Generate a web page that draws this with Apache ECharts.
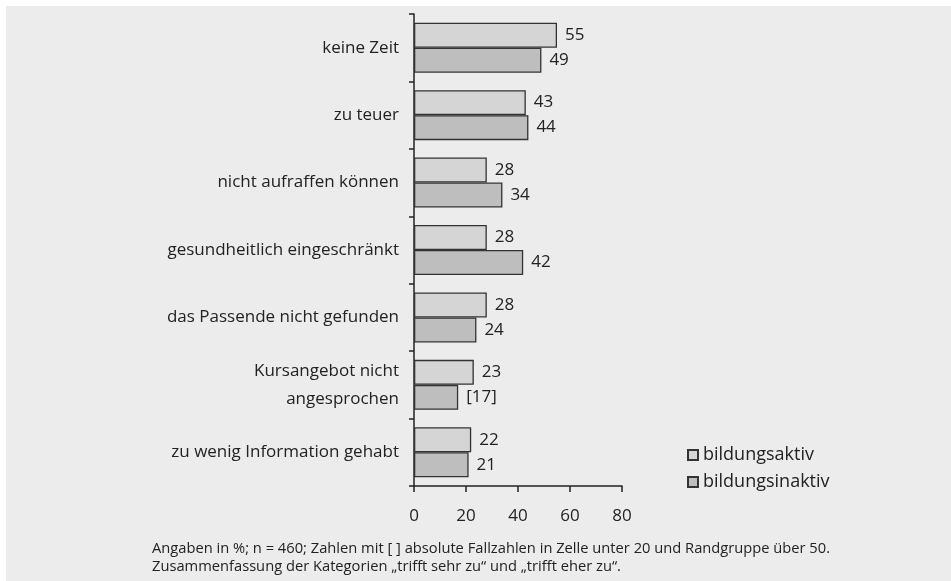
<!DOCTYPE html>
<html>
<head>
<meta charset="utf-8">
<script src="https://cdn.jsdelivr.net/npm/echarts@6/dist/echarts.min.js"></script>
<style>
  html, body { margin: 0; padding: 0; background: #fff; }
  #chart { width: 951px; height: 581px; }
</style>
</head>
<body>
<div id="chart"></div>
<script>
var categories = ['keine Zeit', 'zu teuer', 'nicht aufraffen können', 'gesundheitlich eingeschränkt',
    'das Passende nicht gefunden', 'Kursangebot nicht\nangesprochen', 'zu wenig Information gehabt'];
var aktiv = [55, 43, 28, 28, 28, 23, 22];
var inaktiv = [49, 44, 34, 42, 24, 17, 21];
var inaktivLabels = ['49', '44', '34', '42', '24', '[17]', '21'];
var xTicks = [0, 20, 40, 60, 80];

var font = '"Open Sans", Lato, sans-serif';
var ink = '#222';

var myChart = echarts.init(document.getElementById('chart'));

var option = {
    backgroundColor: '#fff',
    animation: false,
    textStyle: { fontFamily: font, color: ink },
    graphic: [
        { type: 'rect', z: -10, shape: { x: 6, y: 6, width: 945, height: 575 }, style: { fill: '#ececec' } },
        {
            type: 'text', left: 152, top: 540,
            style: {
                text: 'Angaben in %; n = 460; Zahlen mit [ ] absolute Fallzahlen in Zelle unter 20 und Randgruppe über 50.\nZusammenfassung der Kategorien „trifft sehr zu“ und „trifft eher zu“.',
                font: '14.7px ' + font, fill: ink, lineHeight: 18
            }
        }
    ],
    legend: {
        orient: 'vertical',
        left: 682, top: 441,
        itemWidth: 10, itemHeight: 10, itemGap: 9,
        icon: 'rect',
        textStyle: { fontSize: 18, color: ink, fontFamily: font },
        data: ['bildungsaktiv', 'bildungsinaktiv']
    },
    grid: { left: 414, right: 329, top: 14, bottom: 95, containLabel: false },
    xAxis: {
        type: 'value', min: 0, max: 80, interval: 20,
        axisLine: { show: true, lineStyle: { color: ink, width: 1.5 } },
        axisTick: { show: true, length: 6, lineStyle: { color: ink, width: 1.5 } },
        splitLine: { show: false },
        axisLabel: {
            fontSize: 17, color: ink, margin: 22, fontFamily: font,
            formatter: function (v) { return xTicks.indexOf(v) >= 0 ? String(v) : ''; }
        }
    },
    yAxis: {
        type: 'category', inverse: true, data: categories,
        axisLine: { show: true, lineStyle: { color: ink, width: 1.5 } },
        axisTick: { show: true, length: 5, lineStyle: { color: ink, width: 1.5 } },
        axisLabel: { fontSize: 17, color: ink, margin: 15, lineHeight: 28, align: 'right', fontFamily: font }
    },
    series: [
        {
            name: 'bildungsaktiv', type: 'bar', data: aktiv,
            barWidth: 25, barGap: '0%',
            itemStyle: { color: '#d5d5d5', borderColor: '#333', borderWidth: 1.3 },
            label: { show: true, position: 'right', distance: 8, fontSize: 17, color: ink, fontFamily: font }
        },
        {
            name: 'bildungsinaktiv', type: 'bar', data: inaktiv,
            barWidth: 25, barGap: '0%',
            itemStyle: { color: '#bebebe', borderColor: '#333', borderWidth: 1.3 },
            label: {
                show: true, position: 'right', distance: 8, fontSize: 17, color: ink, fontFamily: font,
                formatter: function (p) { return inaktivLabels[p.dataIndex]; }
            }
        }
    ]
};

myChart.setOption(option);
</script>
</body>
</html>
